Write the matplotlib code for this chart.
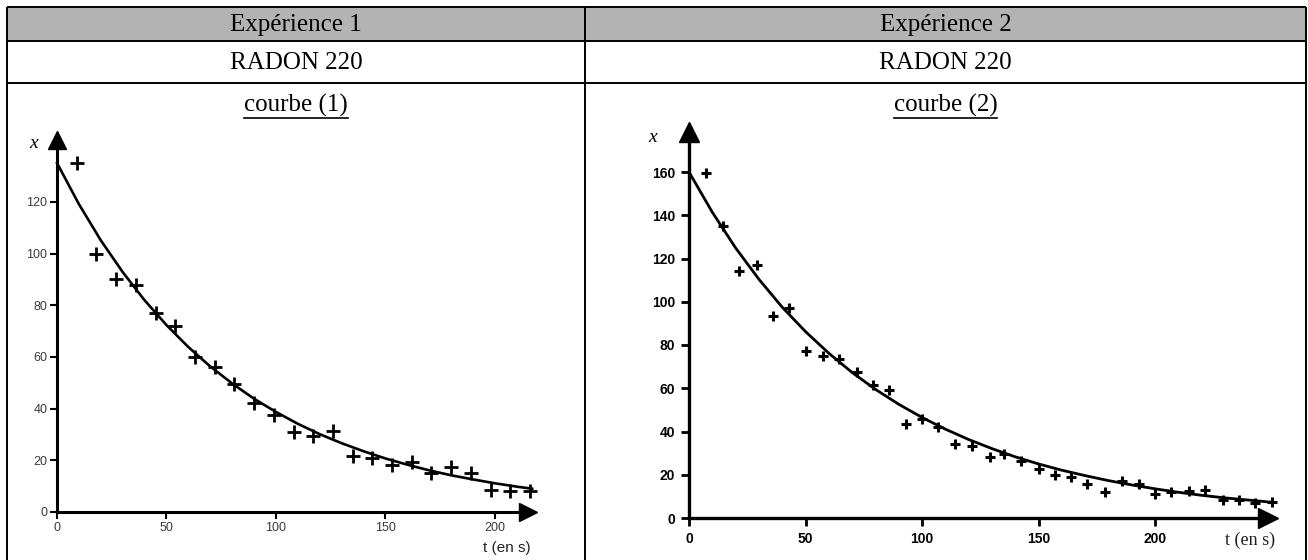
import numpy as np
import matplotlib
matplotlib.use('Agg')
import matplotlib.pyplot as plt

# === DONNEES ===
# courbe (1) : mesures
t1 = [9, 18, 27, 36, 45, 54, 63, 72, 81, 90, 99, 108, 117, 126, 135, 144, 153, 162, 171, 180, 189, 198, 207, 216]
x1 = [135, 100, 90, 88, 77, 72, 60, 56, 49.5, 42, 37.5, 31, 29.5, 31.5, 21.5, 21, 18, 19.5, 15, 17.5, 15, 8.5, 8, 8]
# courbe (1) : tracé lissé
c1_t = [0, 10, 20, 30, 40, 50, 60, 70, 80, 90, 100, 110, 120, 130, 140, 150, 160, 170, 180, 190, 200, 210, 217]
c1_x = [135, 119.1, 105.1, 92.8, 81.9, 72.3, 63.8, 56.3, 49.7, 43.8, 38.7, 34.1, 30.1, 26.6, 23.5, 20.7, 18.3,
        16.1, 14.2, 12.6, 11.1, 9.8, 9.0]

# courbe (2) : mesures
t2 = [7.5, 14.5, 21.5, 29, 36, 43, 50, 57.5, 64.5, 72, 79, 86, 93, 100, 107, 114, 121.5, 129, 135, 142.5,
      150, 157, 164, 171, 178.5, 186, 193, 200, 207, 214.5, 221.5, 229, 236, 243, 250]
x2 = [159.5, 135, 114, 117, 93.5, 97, 77, 75, 73.5, 67.5, 61.5, 59, 43.5, 46, 42, 34, 33.5, 28, 29.5, 26.5,
      22.5, 20, 19, 15.5, 12, 17, 15.5, 11, 12, 12.5, 13, 8.5, 8.5, 7, 7.5]
c2_t = [0, 10, 20, 30, 40, 50, 60, 70, 80, 90, 100, 110, 120, 130, 140, 150, 160, 170, 180, 190, 200, 210,
        220, 230, 240, 250]
c2_x = [160, 141.4, 124.9, 110.4, 97.5, 86.2, 76.2, 67.3, 59.5, 52.6, 46.5, 41.1, 36.3, 32.1, 28.3, 25.0,
        22.1, 19.6, 17.3, 15.3, 13.5, 11.9, 10.5, 9.3, 8.3, 7.3]

yticks1 = [0, 20, 40, 60, 80, 100, 120]
xticks1 = [0, 50, 100, 150, 200]
yticks2 = [0, 20, 40, 60, 80, 100, 120, 140, 160]
xticks2 = [0, 50, 100, 150, 200]

W, H = 1308, 560
fig = plt.figure(figsize=(W / 100, H / 100), dpi=100)
fig.patch.set_facecolor('white')

# fond : tableau
bg = fig.add_axes([0, 0, 1, 1], zorder=0)
bg.set_xlim(0, W)
bg.set_ylim(H, 0)
bg.axis('off')

L, M, R = 7, 585, 1306
y_top, y_r1, y_r2 = 7, 41, 83
bg.add_patch(plt.Rectangle((L, y_top), R - L, y_r1 - y_top, facecolor='#b3b3b3', edgecolor='none'))
for yy in [y_top, y_r1, y_r2]:
    bg.plot([L, R], [yy, yy], color='black', lw=1.4, solid_capstyle='butt')
for xx in [L, M, R]:
    bg.plot([xx, xx], [y_top, H + 5], color='black', lw=1.4, solid_capstyle='butt')

serif = 'Liberation Serif'
for xc, num in [((L + M) / 2, 1), ((M + R) / 2, 2)]:
    bg.text(xc, (y_top + y_r1) / 2 + 1, f"Expérience {num}", ha='center', va='center', fontsize=18, family=serif)
    bg.text(xc, (y_r1 + y_r2) / 2 + 1, "RADON 220", ha='center', va='center', fontsize=18, family=serif)

courbes = []
for xc, num in [((L + M) / 2, 1), ((M + R) / 2, 2)]:
    courbes.append(bg.text(xc, 105, f"courbe ({num})", ha='center', va='center', fontsize=18, family=serif))


def px_axes(x0, y0, sx, sy, xmax, ymax):
    ax = fig.add_axes([x0 / W, (H - y0) / H, sx * xmax / W, sy * ymax / H], zorder=2)
    ax.set_xlim(0, xmax)
    ax.set_ylim(0, ymax)
    ax.patch.set_alpha(0)
    for s in ['top', 'right']:
        ax.spines[s].set_visible(False)
    return ax


# === courbe (1) ===
ax1 = px_axes(57, 512, 2.19, 2.585, 215, 144)
for s in ['left', 'bottom']:
    ax1.spines[s].set_linewidth(2.2)
ax1.plot(c1_t, c1_x, color='black', lw=1.9, clip_on=False)
ax1.plot(t1, x1, '+', color='black', ms=10, mew=2, clip_on=False)
ax1.plot(1, 0, '>', color='black', ms=13, transform=ax1.get_yaxis_transform(), clip_on=False)
ax1.plot(0, 1, '^', color='black', ms=13, transform=ax1.get_xaxis_transform(), clip_on=False)
ax1.set_xticks(xticks1)
ax1.set_yticks(yticks1)
ax1.tick_params(length=5, width=1.5, colors='black', labelcolor='#3a3a3a', labelsize=9, pad=2)
for lab in ax1.get_xticklabels() + ax1.get_yticklabels():
    lab.set_family('Liberation Sans')
bg.text(34, 143, "x", fontsize=14, style='italic', family=serif, ha='center', va='center')
bg.text(507, 548, "t (en s)", ha='center', va='center', fontsize=11, family='Liberation Sans', color='#222222')

# === courbe (2) ===
ax2 = px_axes(689, 518, 2.33, 2.1625, 248.5, 178.5)
for s in ['left', 'bottom']:
    ax2.spines[s].set_linewidth(2.4)
ax2.plot(c2_t, c2_x, color='black', lw=2.0, clip_on=False)
ax2.plot(t2, x2, '+', color='black', ms=7.5, mew=2.2, clip_on=False)
ax2.plot(1, 0, '>', color='black', ms=14, transform=ax2.get_yaxis_transform(), clip_on=False)
ax2.plot(0, 1, '^', color='black', ms=14, transform=ax2.get_xaxis_transform(), clip_on=False)
ax2.set_xticks(xticks2)
ax2.set_yticks(yticks2)
ax2.tick_params(length=6, width=2, colors='black', labelsize=10, pad=4)
for lab in ax2.get_xticklabels() + ax2.get_yticklabels():
    lab.set_family('Liberation Sans')
    lab.set_fontweight('bold')
bg.text(653, 138, "x", fontsize=14, style='italic', family=serif, ha='center', va='center')
bg.text(1250, 540, "t (en s)", ha='center', va='center', fontsize=13, family=serif, color='#222222')

# soulignement de "courbe (n)"
fig.canvas.draw()
inv = bg.transData.inverted()
for txt in courbes:
    bb = txt.get_window_extent()
    (xa, ya), (xb, yb) = inv.transform([[bb.x0, bb.y0], [bb.x1, bb.y1]])
    bg.plot([xa, xb], [ya + 1, ya + 1], color='black', lw=1.2)

fig.savefig('out.png', dpi=100)
